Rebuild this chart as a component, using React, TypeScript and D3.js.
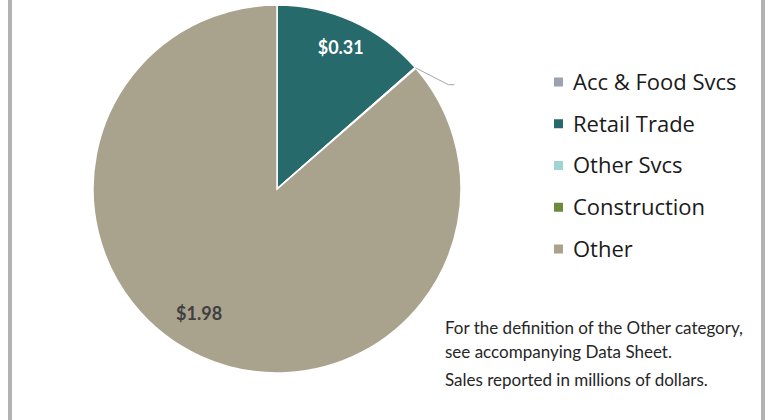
import React from "react";
import * as d3 from "d3";

const categories = ["Acc & Food Svcs", "Retail Trade", "Other Svcs", "Construction", "Other"];
const sales = [0, 0.31, 0.001, 0.001, 1.98];
const colors = ["#9ba4ae", "#266a6c", "#9fd4d2", "#6b8a3c", "#a9a28d"];
const labelColors = ["#404040", "#ffffff", "#404040", "#404040", "#404040"];
const notes = [
  "For the definition of the Other category,",
  "see accompanying Data Sheet.",
  "Sales reported in millions of dollars.",
];

const W = 770;
const H = 420;
const cx = 277;
const cy = 189;
const r = 184;

const font = "Lato, 'Open Sans', sans-serif";

const App = () => {
  const pie = d3
    .pie<number>()
    .sort(null)
    .value((d) => d);
  const arcs = pie(sales);

  const arc = d3.arc<d3.PieArcDatum<number>>().innerRadius(0).outerRadius(r);

  // label spots: radius factor + small angle shift (radians), like excel puts them
  const labelPos = (d: d3.PieArcDatum<number>, i: number): [number, number] => {
    const k = i === 1 ? 0.84 : 0.8;
    const ang = (d.startAngle + d.endAngle) / 2 + (i === 4 ? 0.13 : 0);
    return [Math.sin(ang) * r * k, -Math.cos(ang) * r * k];
  };

  // leader line for the tiny slices between Retail and Other
  const tiny = arcs[2];
  const a = (tiny.startAngle + tiny.endAngle) / 2;
  const p0: [number, number] = [Math.sin(a) * r, -Math.cos(a) * r];
  const p1: [number, number] = [p0[0] + 33, p0[1] + 17];
  const p2: [number, number] = [p1[0] + 6, p1[1]];

  const legendY = d3.scalePoint<string>().domain(categories).range([82, 249]);

  return (
    <svg
      width={W}
      height={H}
      style={{ position: "absolute", left: 0, top: 0, background: "#fff" }}
    >
      <rect x={8} y={0} width={4} height={H} fill="#b3b3b3" />
      <rect x={761} y={0} width={4} height={H} fill="#b3b3b3" />

      <g transform={`translate(${cx},${cy})`}>
        {arcs.map((d, i) =>
          d.value > 0 ? (
            <path key={i} d={arc(d) || ""} fill={colors[i]} stroke="#fff" strokeWidth={1.5} />
          ) : null
        )}
        {arcs.map((d, i) => {
          if (d.value < 0.1) return null;
          const [lx, ly] = labelPos(d, i);
          return (
            <text
              key={"l" + i}
              x={lx}
              y={ly}
              dy="0.35em"
              textAnchor="middle"
              fill={labelColors[i]}
              fontFamily={font}
              fontWeight="bold"
              fontSize={18}
            >
              ${d.value.toFixed(2)}
            </text>
          );
        })}
        <polyline
          points={[p0, p1, p2].map((p) => p.join(",")).join(" ")}
          fill="none"
          stroke="#a6a6a6"
          strokeWidth={1}
        />
      </g>

      <g>
        {categories.map((c, i) => (
          <g key={c} transform={`translate(554,${legendY(c)})`}>
            <rect x={0} y={-4.5} width={9} height={9} fill={colors[i]} />
            <text
              x={19}
              y={0}
              dy="0.36em"
              fontFamily="'Open Sans', sans-serif"
              fontSize={22}
              fill="#1a1a1a"
            >
              {c}
            </text>
          </g>
        ))}
      </g>

      <g fontFamily={font} fontSize={17} fill="#262626">
        {notes.map((n, i) => (
          <text key={i} x={445} y={[334, 358, 386][i]}>
            {n}
          </text>
        ))}
      </g>
    </svg>
  );
};

export default App;
